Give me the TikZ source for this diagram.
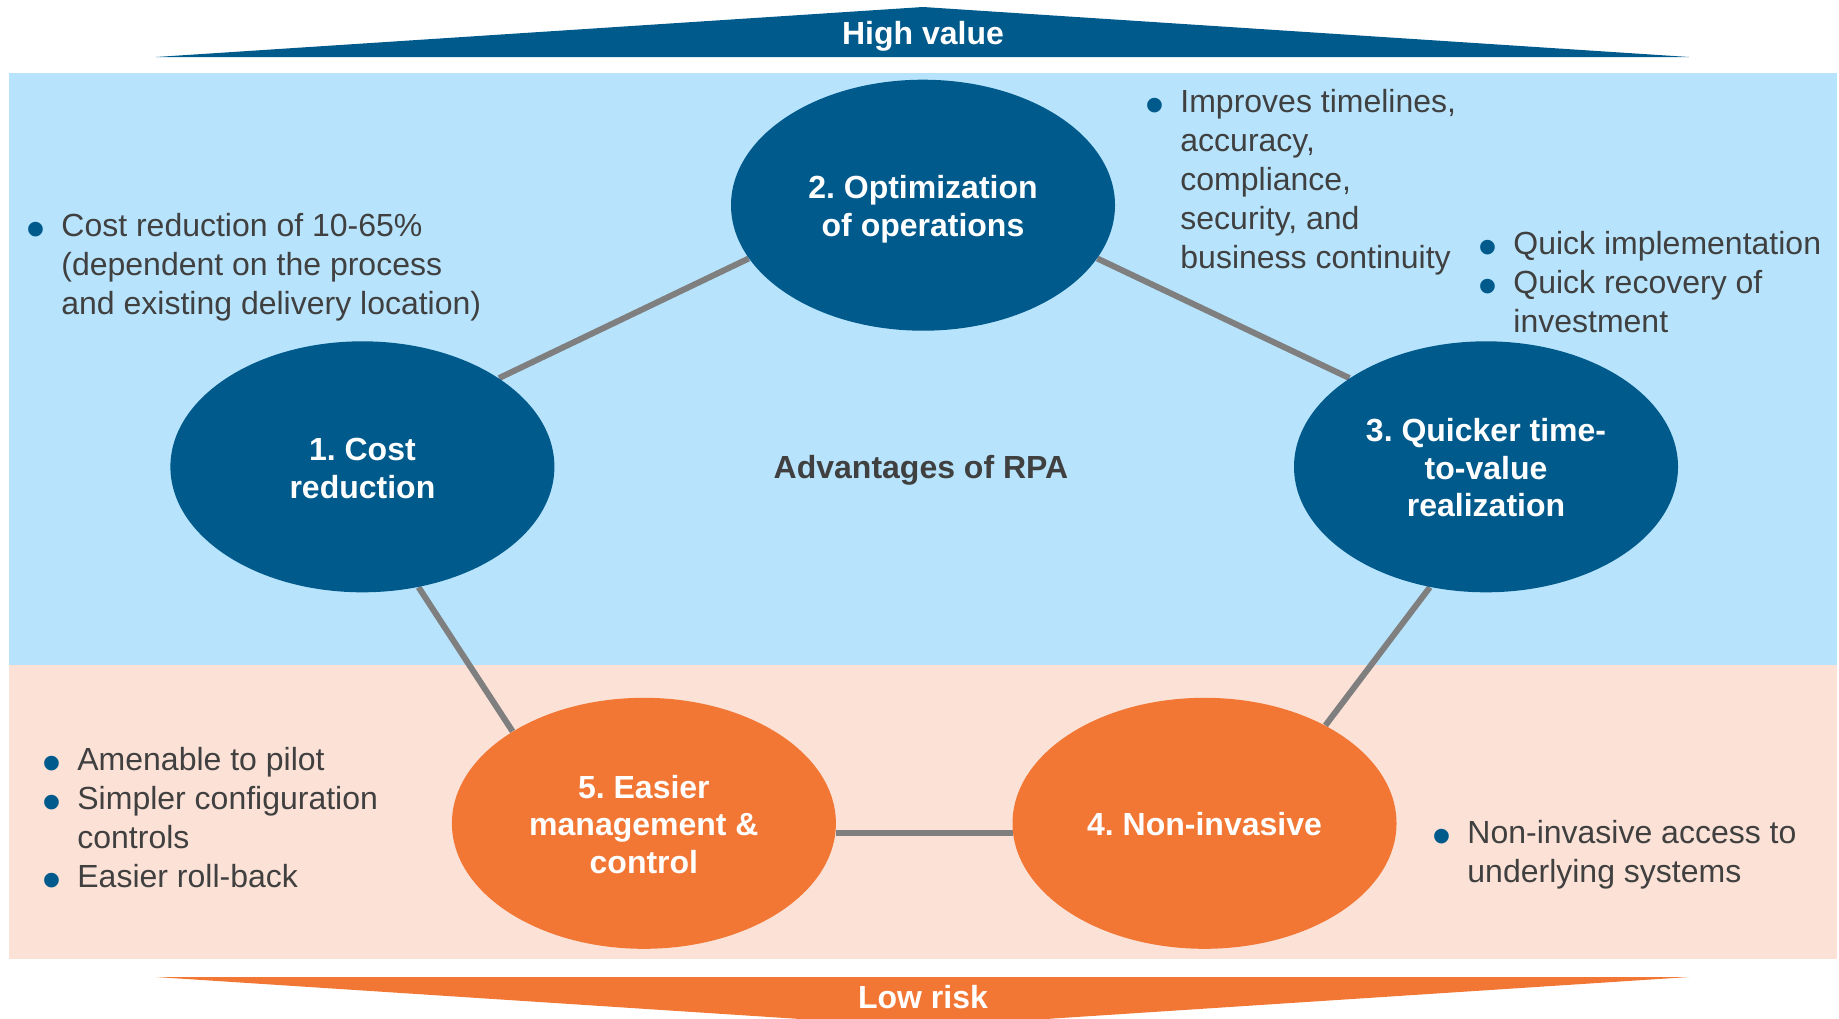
\documentclass[tikz,border=0pt]{standalone}
\usepackage{fontspec}
\setmainfont{Liberation Sans}
\usetikzlibrary{shapes.geometric,backgrounds}

\definecolor{rpablue}{HTML}{005A8C}
\definecolor{rpasky}{HTML}{B7E4FC}
\definecolor{rpapeach}{HTML}{FCE1D6}
\definecolor{rpaorange}{HTML}{F27634}
\definecolor{rpatext}{HTML}{404040}
\definecolor{rpalink}{HTML}{7F7F7F}

\frenchspacing
% hanging blue bullet in front of a list item
\newcommand{\bul}{\leavevmode\llap{\raisebox{-5.5pt}{\textcolor{rpablue}{\fontsize{27}{0}\selectfont\textbullet}}\hspace{8pt}}}
% struts that keep the pillar labels evenly placed
\newcommand{\topstr}{\rule{0pt}{18pt}}
\newcommand{\botstr}{\rule[-5.6pt]{0pt}{0pt}}

\tikzset{
  pillar/.style={ellipse, minimum width=192pt, minimum height=125.5pt, inner sep=0pt,
    align=center, text=white, font=\fontsize{16}{18.8}\selectfont\bfseries},
  bluepillar/.style={pillar, fill=rpablue},
  orangepillar/.style={pillar, fill=rpaorange},
  notes/.style={anchor=base west, inner sep=0pt, text=rpatext,
    font=\fontsize{16}{19.5}\selectfont},
  link/.style={draw=rpalink, line width=3pt},
  banner/.style={text=white, font=\fontsize{16}{19}\selectfont\bfseries, inner sep=0pt, anchor=base}
}

\begin{document}
\begin{tikzpicture}[x=0.5pt,y=-0.5pt]
\useasboundingbox (0,0) rectangle (1839,1018);
\clip (0,0) rectangle (1839,1018);

% pillars of the pentagon
\node[bluepillar]   (cost)  at (362.4,466.8) {\topstr 1. Cost\\reduction\botstr};
\node[bluepillar]   (opt)   at (923,205.2)   {\topstr 2. Optimization\\of operations\botstr};
\node[bluepillar]   (quick) at (1486,466.8)  {\topstr 3. Quicker time-\\to-value\\realization\botstr};
\node[orangepillar] (noninv) at (1204.5,823.3) {\topstr 4. Non-invasive\botstr};
\node[orangepillar] (easier) at (643.9,823.3)  {\topstr 5. Easier\\management \&\\control\botstr};

\begin{scope}[on background layer]
  % value and risk bands
  \fill[rpasky]   (9,73) rectangle (1837,665);
  \fill[rpapeach] (9,665) rectangle (1837,959);
  % direction banners
  \fill[rpablue]   (156,57) -- (923,7) -- (1689,57) -- cycle;
  \fill[rpaorange] (156,977) -- (1689,977) -- (923,1027) -- cycle;
  % connectors
  \draw[link] (cost.33)    -- (opt.197);
  \draw[link] (opt.343)    -- (quick.147);
  \draw[link] (quick.245)  -- (noninv.39);
  \draw[link] (noninv.183) -- (easier.357);
  \draw[link] (easier.145.5) -- (cost.295.7);
\end{scope}

\node[banner] (high) at (923,44)   {High value};
\node[banner] (low)  at (923,1008) {Low risk};

\node[anchor=base, inner sep=0pt, text=rpatext, font=\fontsize{16}{19}\selectfont\bfseries]
  (title) at (921,478) {Advantages of RPA};

% benefit notes
\node[notes] (n1) at (61,236) {\parbox[t]{420pt}{\raggedright
  \bul Cost reduction of 10-65\%\\(dependent on the process\\and existing delivery location)}};
\node[notes] (n2) at (1180,112) {\parbox[t]{200pt}{\raggedright
  \bul Improves timelines,\\accuracy,\\compliance,\\security, and\\business continuity}};
\node[notes] (n3) at (1513,254) {\parbox[t]{200pt}{\raggedright
  \bul Quick implementation\\\bul Quick recovery of\\investment}};
\node[notes] (n5) at (77,770) {\parbox[t]{200pt}{\raggedright
  \bul Amenable to pilot\\\bul Simpler configuration\\controls\\\bul Easier roll-back}};
\node[notes] (n4) at (1467,843) {\parbox[t]{200pt}{\raggedright
  \bul Non-invasive access to\\underlying systems}};
\end{tikzpicture}
\end{document}
